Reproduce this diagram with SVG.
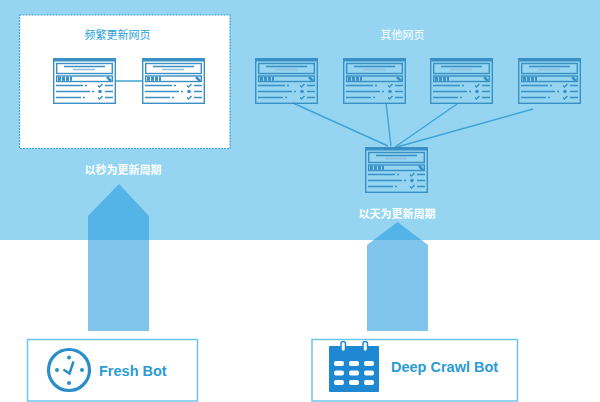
<svg xmlns="http://www.w3.org/2000/svg" width="600" height="402" viewBox="0 0 600 402">
<style>
.cjk{font-family:"Noto Sans CJK SC","Liberation Sans",sans-serif;font-size:11px;text-anchor:middle}
.b{font-family:"Liberation Sans",Arial,sans-serif;font-weight:bold;font-size:14.5px;fill:#2a9bd3}
.w{fill:#fff}
.box{fill:#fff;stroke:#6cc6ec;stroke-width:1.5}
.ln{fill:none;stroke:#3fa3d6;stroke-width:1.4}
.arrow{fill:#299ddf;fill-opacity:.594}
.p{fill:none;stroke:#3a8fc4;stroke-width:1.4}
.t{stroke:#3a8fc4;stroke-width:1.3;fill:none}
</style>
<defs>
<g id="page">
<rect x=".7" y=".7" width="61.600" height="44.600" fill="none" stroke="#3a8fc4" stroke-width="1.400"/>
<rect x="0" y="0" width="63" height="3.500" fill="#3a8fc4"/>
<rect x="3.700" y="5.500" width="55.600" height="10" class="p"/>
<path d="M11 8.500H52" class="t"/><path d="M20 11.500H42" stroke="#8fbfdc" stroke-width="1.500"/>
<rect x="3.700" y="18" width="55.600" height="5.500" class="p"/>
<path d="M5 20.700H19" stroke="#3a8fc4" stroke-width="4" stroke-dasharray="3 1"/>
<path d="M54 19l4 4" stroke="#3a8fc4" stroke-width="2.500"/>
<path d="M3 27.500H30M32 27.500H34M3 33.500H37M39 33.500H41M3 39.500H28M30 39.500H32M52 27.500H60M52 33.500H60M52 39.500H60" class="t"/>
<path d="M45 27.500l1.500 1.500 3-3M45 39.500l1.500 1.500 3-3" stroke="#3a8fc4" stroke-width="1.400" fill="none"/>
<circle cx="47" cy="33.500" r="1.800" fill="#3a8fc4"/>
</g>
</defs>
<rect id="top-band" width="600" height="240" fill="#95d5f2"/>
<g id="frequent-panel">
<rect x="19.500" y="15" width="210.500" height="133.500" fill="#fff" stroke="#3ea6d6" stroke-width="1.200" stroke-dasharray="2 1"/>
<text x="117.500" y="39" class="cjk" fill="#2a9fd8">频繁更新网页</text>
</g>
<g id="connectors">
<path class="ln" d="M116 81H142M293 103L388 146M386 103L391 146M457 104L395 147M533 109L397 147"/>
</g>
<g id="page-f1"><use href="#page" x="53" y="58"/></g>
<g id="page-f2"><use href="#page" x="142" y="58"/></g>
<g id="page-o1"><use href="#page" x="255" y="58"/></g>
<g id="page-o2"><use href="#page" x="343" y="58"/></g>
<g id="page-o3"><use href="#page" x="430" y="58"/></g>
<g id="page-o4"><use href="#page" x="518" y="58"/></g>
<g id="page-deep"><use href="#page" x="365" y="147"/></g>
<text x="402.500" y="39" class="cjk w">其他网页</text>
<text x="123" y="174" class="cjk w" font-weight="bold">以秒为更新周期</text>
<text x="397" y="218" class="cjk w" font-weight="bold">以天为更新周期</text>
<g id="arrow-fresh"><polygon class="arrow" points="119,184 149,216 149,331 88,331 88,216"/></g>
<g id="arrow-deep"><polygon class="arrow" points="397.500,222 428,245 428,331 367,331 367,245"/></g>
<g id="fresh-bot">
<rect class="box" x="27.500" y="339.500" width="170" height="61.500"/>
<circle cx="69" cy="370" r="20.500" fill="none" stroke="#2a8fc9" stroke-width="3.200"/>
<path d="M63.500 369.500l6 4 4-12" fill="none" stroke="#2a8fc9" stroke-width="2.500"/>
<g fill="#2a8fc9"><circle cx="69" cy="357.500" r="2"/><circle cx="69" cy="383" r="2"/><circle cx="57" cy="370" r="2"/><circle cx="82" cy="370" r="2"/></g>
<text x="99" y="376" class="b">Fresh Bot</text>
</g>
<g id="deep-bot">
<rect class="box" x="312" y="339.500" width="205.500" height="61.500"/>
<rect x="329" y="346" width="50" height="46" rx="1" fill="#1e88d2"/>
<g fill="#fff" stroke="#1e88d2" stroke-width="1.500"><rect x="341" y="341.500" width="4.500" height="10" rx="2.200"/><rect x="363" y="341.500" width="4.500" height="10" rx="2.200"/></g>
<g fill="#fff">
<rect x="334" y="361" width="10" height="5" rx="2"/><rect x="349" y="361" width="10" height="5" rx="2"/><rect x="364" y="361" width="10" height="5" rx="2"/>
<rect x="334" y="370.500" width="10" height="5" rx="2"/><rect x="349" y="370.500" width="10" height="5" rx="2"/><rect x="364" y="370.500" width="10" height="5" rx="2"/>
<rect x="334" y="380" width="10" height="5" rx="2"/><rect x="349" y="380" width="10" height="5" rx="2"/><rect x="364" y="380" width="10" height="5" rx="2"/>
</g>
<text x="391" y="372" class="b">Deep Crawl Bot</text>
</g>
</svg>
